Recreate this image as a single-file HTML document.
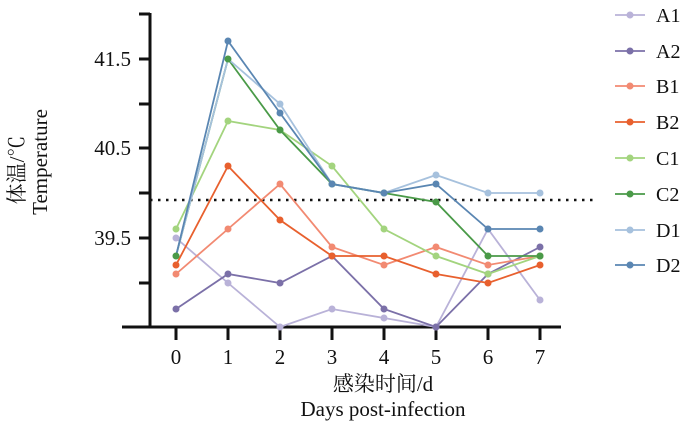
<!DOCTYPE html>
<html><head><meta charset="utf-8"><style>body{margin:0;background:#fff}svg{display:block}text{font-family:"Liberation Serif","Noto Serif CJK SC",serif;fill:#111}</style></head><body>
<svg width="700" height="428" viewBox="0 0 700 428" xmlns="http://www.w3.org/2000/svg">
<g stroke="#111" stroke-width="3" fill="none">
<line x1="150" y1="13" x2="150" y2="328"/>
<line x1="122" y1="327" x2="561" y2="327"/>
<line x1="139" y1="14" x2="150" y2="14"/>
<line x1="139" y1="59" x2="150" y2="59"/>
<line x1="139" y1="104" x2="150" y2="104"/>
<line x1="139" y1="148" x2="150" y2="148"/>
<line x1="139" y1="193" x2="150" y2="193"/>
<line x1="139" y1="238" x2="150" y2="238"/>
<line x1="139" y1="283" x2="150" y2="283"/>
</g>
<g stroke="#111" stroke-width="3">
<line x1="176" y1="327" x2="176" y2="340"/><line x1="228" y1="327" x2="228" y2="340"/><line x1="280" y1="327" x2="280" y2="340"/><line x1="332" y1="327" x2="332" y2="340"/><line x1="384" y1="327" x2="384" y2="340"/><line x1="436" y1="327" x2="436" y2="340"/><line x1="488" y1="327" x2="488" y2="340"/><line x1="540" y1="327" x2="540" y2="340"/>
</g>
<line x1="150" y1="200" x2="598" y2="200" stroke="#111" stroke-width="2.5" stroke-dasharray="2.5,5.5"/>
<g font-size="21" text-anchor="end">
<text x="131" y="66">41.5</text><text x="131" y="155">40.5</text><text x="131" y="245">39.5</text>
</g>
<g font-size="21" text-anchor="middle">
<text x="176" y="364">0</text><text x="228" y="364">1</text><text x="280" y="364">2</text><text x="332" y="364">3</text><text x="384" y="364">4</text><text x="436" y="364">5</text><text x="488" y="364">6</text><text x="540" y="364">7</text>
<text x="383" y="391">感染时间/d</text>
<text x="383" y="416">Days post-infection</text>
</g>
<g font-size="21" text-anchor="middle">
<text transform="translate(24,170) rotate(-90)">体温/℃</text>
<text transform="translate(47,162) rotate(-90)">Temperature</text>
</g>
<g stroke-width="1.8" fill="none">
<polyline stroke="#b9b2d8" points="176,238 228,283 280,327 332,309 384,318 436,327 488,229 540,300"/>
<polyline stroke="#7b70a8" points="176,309 228,274 280,283 332,256 384,309 436,327 488,274 540,247"/>
<polyline stroke="#f28a72" points="176,274 228,229 280,184 332,247 384,265 436,247 488,265 540,256"/>
<polyline stroke="#e8602e" points="176,265 228,166 280,220 332,256 384,256 436,274 488,283 540,265"/>
<polyline stroke="#a3d47e" points="176,229 228,121 280,130 332,166 384,229 436,256 488,274 540,256"/>
<polyline stroke="#4a9a48" points="176,256 228,59 280,130 332,184 384,193 436,202 488,256 540,256"/>
<polyline stroke="#a6c1dd" points="176,256 228,59 280,104 332,184 384,193 436,175 488,193 540,193"/>
<polyline stroke="#5a86b2" points="176,256 228,41 280,113 332,184 384,193 436,184 488,229 540,229"/>
</g>
<g stroke="none">
<g fill="#b9b2d8"><circle cx="176" cy="238" r="3.5"/><circle cx="228" cy="283" r="3.5"/><circle cx="280" cy="327" r="3.5"/><circle cx="332" cy="309" r="3.5"/><circle cx="384" cy="318" r="3.5"/><circle cx="436" cy="327" r="3.5"/><circle cx="488" cy="229" r="3.5"/><circle cx="540" cy="300" r="3.5"/></g>
<g fill="#7b70a8"><circle cx="176" cy="309" r="3.5"/><circle cx="228" cy="274" r="3.5"/><circle cx="280" cy="283" r="3.5"/><circle cx="332" cy="256" r="3.5"/><circle cx="384" cy="309" r="3.5"/><circle cx="436" cy="327" r="3.5"/><circle cx="488" cy="274" r="3.5"/><circle cx="540" cy="247" r="3.5"/></g>
<g fill="#f28a72"><circle cx="176" cy="274" r="3.5"/><circle cx="228" cy="229" r="3.5"/><circle cx="280" cy="184" r="3.5"/><circle cx="332" cy="247" r="3.5"/><circle cx="384" cy="265" r="3.5"/><circle cx="436" cy="247" r="3.5"/><circle cx="488" cy="265" r="3.5"/><circle cx="540" cy="256" r="3.5"/></g>
<g fill="#e8602e"><circle cx="176" cy="265" r="3.5"/><circle cx="228" cy="166" r="3.5"/><circle cx="280" cy="220" r="3.5"/><circle cx="332" cy="256" r="3.5"/><circle cx="384" cy="256" r="3.5"/><circle cx="436" cy="274" r="3.5"/><circle cx="488" cy="283" r="3.5"/><circle cx="540" cy="265" r="3.5"/></g>
<g fill="#a3d47e"><circle cx="176" cy="229" r="3.5"/><circle cx="228" cy="121" r="3.5"/><circle cx="280" cy="130" r="3.5"/><circle cx="332" cy="166" r="3.5"/><circle cx="384" cy="229" r="3.5"/><circle cx="436" cy="256" r="3.5"/><circle cx="488" cy="274" r="3.5"/><circle cx="540" cy="256" r="3.5"/></g>
<g fill="#4a9a48"><circle cx="176" cy="256" r="3.5"/><circle cx="228" cy="59" r="3.5"/><circle cx="280" cy="130" r="3.5"/><circle cx="332" cy="184" r="3.5"/><circle cx="384" cy="193" r="3.5"/><circle cx="436" cy="202" r="3.5"/><circle cx="488" cy="256" r="3.5"/><circle cx="540" cy="256" r="3.5"/></g>
<g fill="#a6c1dd"><circle cx="280" cy="104" r="3.5"/><circle cx="436" cy="175" r="3.5"/><circle cx="488" cy="193" r="3.5"/><circle cx="540" cy="193" r="3.5"/></g>
<g fill="#5a86b2"><circle cx="228" cy="41" r="3.5"/><circle cx="280" cy="113" r="3.5"/><circle cx="332" cy="184" r="3.5"/><circle cx="384" cy="193" r="3.5"/><circle cx="436" cy="184" r="3.5"/><circle cx="488" cy="229" r="3.5"/><circle cx="540" cy="229" r="3.5"/></g>
</g>
<g stroke-width="1.8" font-size="20">
<line x1="615" y1="15" x2="645" y2="15" stroke="#b9b2d8"/><circle cx="630" cy="15" r="3.5" fill="#b9b2d8"/><text x="656" y="22">A1</text>
<line x1="615" y1="51" x2="645" y2="51" stroke="#7b70a8"/><circle cx="630" cy="51" r="3.5" fill="#7b70a8"/><text x="656" y="58">A2</text>
<line x1="615" y1="86" x2="645" y2="86" stroke="#f28a72"/><circle cx="630" cy="86" r="3.5" fill="#f28a72"/><text x="656" y="93">B1</text>
<line x1="615" y1="122" x2="645" y2="122" stroke="#e8602e"/><circle cx="630" cy="122" r="3.5" fill="#e8602e"/><text x="656" y="129">B2</text>
<line x1="615" y1="158" x2="645" y2="158" stroke="#a3d47e"/><circle cx="630" cy="158" r="3.5" fill="#a3d47e"/><text x="656" y="165">C1</text>
<line x1="615" y1="194" x2="645" y2="194" stroke="#4a9a48"/><circle cx="630" cy="194" r="3.5" fill="#4a9a48"/><text x="656" y="201">C2</text>
<line x1="615" y1="230" x2="645" y2="230" stroke="#a6c1dd"/><circle cx="630" cy="230" r="3.5" fill="#a6c1dd"/><text x="656" y="237">D1</text>
<line x1="615" y1="265" x2="645" y2="265" stroke="#5a86b2"/><circle cx="630" cy="265" r="3.5" fill="#5a86b2"/><text x="656" y="272">D2</text>
</g>
</svg>
</body></html>
